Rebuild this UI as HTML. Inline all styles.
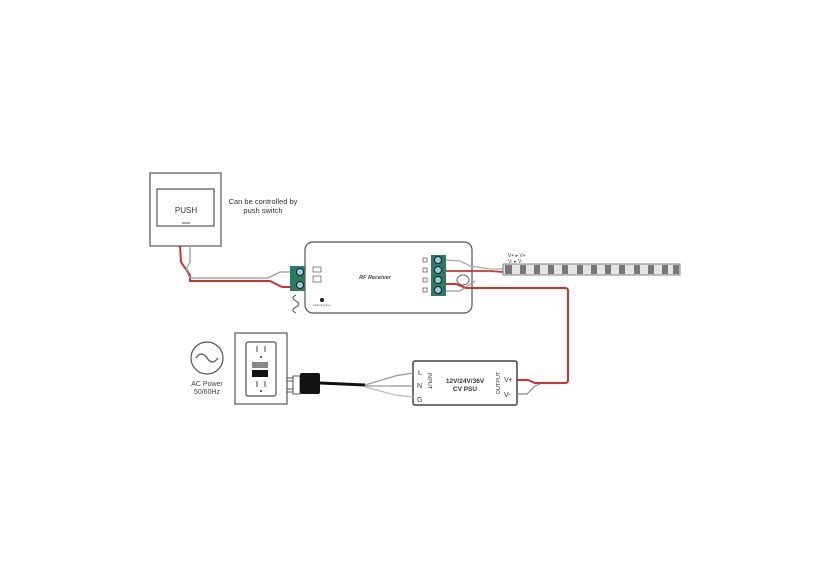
<!DOCTYPE html>
<html><head><meta charset="utf-8"><style>
html,body{margin:0;padding:0;background:#fff;width:830px;height:584px;overflow:hidden}
text{font-family:"Liberation Sans",sans-serif}
</style></head><body>
<svg width="830" height="584" viewBox="0 0 830 584" xmlns="http://www.w3.org/2000/svg">
<!-- push switch -->
<rect x="150" y="173" width="71" height="73" fill="#fff" stroke="#555" stroke-width="1.2"/>
<rect x="157" y="189" width="57" height="37" fill="#fff" stroke="#555" stroke-width="1.2"/>
<text x="186" y="213" font-size="8" text-anchor="middle" fill="#333">PUSH</text>
<rect x="182" y="222" width="8" height="2" fill="#aaa"/>
<text x="263" y="204" font-size="7.5" text-anchor="middle" fill="#333">Can be controlled by</text>
<text x="263" y="213" font-size="7.5" text-anchor="middle" fill="#333">push switch</text>
<!-- switch wires -->
<path d="M180 246 L181 262 L190 275 L190 281 L270 281 L282 287 L292 287" fill="none" stroke="#c33" stroke-width="2"/>
<path d="M190 246 L190 262 L186 270 L190 278 L268 278 L280 272 L292 272" fill="none" stroke="#999" stroke-width="1.3"/>
<!-- receiver -->
<rect x="305" y="242" width="167" height="71" rx="8" fill="#fff" stroke="#555" stroke-width="1.2"/>
<rect x="290" y="266" width="15" height="25" fill="#2f7a5e"/>
<circle cx="300" cy="272" r="3.5" fill="#9cc" stroke="#124"/>
<circle cx="300" cy="285" r="3.5" fill="#9cc" stroke="#124"/>
<rect x="313" y="267" width="8" height="5" fill="#fff" stroke="#666" stroke-width="0.8"/>
<rect x="313" y="276" width="8" height="6" fill="#fff" stroke="#666" stroke-width="0.8"/>
<path d="M296 295 q-6 3 0 6 q6 3 0 6 q-6 3 0 6" fill="none" stroke="#555"/>
<circle cx="322" cy="300" r="2" fill="#222"/>
<text x="322" y="306" font-size="3" text-anchor="middle" fill="#555">Learning Key</text>
<text x="375" y="279" font-size="5.5" font-weight="bold" font-style="italic" text-anchor="middle" fill="#444">RF Receiver</text>
<rect x="431" y="255" width="15" height="41" fill="#2f7a5e"/>
<circle cx="438" cy="260" r="3.5" fill="#9cc" stroke="#124"/>
<circle cx="438" cy="270" r="3.5" fill="#9cc" stroke="#124"/>
<circle cx="438" cy="280" r="3.5" fill="#9cc" stroke="#124"/>
<circle cx="438" cy="290" r="3.5" fill="#9cc" stroke="#124"/>
<rect x="423" y="258" width="4" height="4" fill="#fff" stroke="#555" stroke-width="0.7"/>
<rect x="423" y="268" width="4" height="4" fill="#fff" stroke="#555" stroke-width="0.7"/>
<rect x="423" y="278" width="4" height="4" fill="#fff" stroke="#555" stroke-width="0.7"/>
<rect x="423" y="288" width="4" height="4" fill="#fff" stroke="#555" stroke-width="0.7"/>
<ellipse cx="463" cy="280" rx="6" ry="5" fill="#fff" stroke="#666"/>
<!-- receiver to strip -->
<path d="M446 260 L460 261 L470 266 L490 269 L503 269" fill="none" stroke="#aaa" stroke-width="1.3"/>
<path d="M446 271 L490 271 L503 272" fill="none" stroke="#c33" stroke-width="1.8"/>
<path d="M446 291 L460 291 L475 281" fill="none" stroke="#999" stroke-width="1.3"/>
<path d="M446 284 L456 284 L466 288 L565 288 Q568 288 568 291 L568 380 Q568 383 565 383 L535 383 L528 380 L517 380" fill="none" stroke="#c33" stroke-width="2"/>
<text x="508" y="257" font-size="5" fill="#444">V+ ▸ V+</text>
<text x="508" y="263" font-size="5" fill="#444">V- ▸ V-</text>
<!-- strip -->
<rect x="503" y="264" width="177" height="11" fill="#e4e4e4" stroke="#666" stroke-width="0.8"/>
<g fill="#777">
<rect x="505" y="265" width="7" height="9"/><rect x="520" y="265" width="6" height="9"/><rect x="534" y="265" width="6" height="9"/><rect x="548" y="265" width="6" height="9"/><rect x="562" y="265" width="6" height="9"/><rect x="577" y="265" width="6" height="9"/><rect x="591" y="265" width="6" height="9"/><rect x="605" y="265" width="6" height="9"/><rect x="619" y="265" width="6" height="9"/><rect x="634" y="265" width="6" height="9"/><rect x="648" y="265" width="6" height="9"/><rect x="662" y="265" width="6" height="9"/><rect x="673" y="265" width="6" height="9"/>
</g>
<!-- PSU -->
<rect x="413" y="361" width="104" height="44" rx="2" fill="#fff" stroke="#444" stroke-width="1.5"/>
<text x="465" y="383" font-size="6.5" font-weight="bold" text-anchor="middle" fill="#333">12V/24V/36V</text>
<text x="465" y="391" font-size="6.5" font-weight="bold" text-anchor="middle" fill="#333">CV PSU</text>
<text x="418" y="375" font-size="7" fill="#333">L</text>
<text x="417" y="388" font-size="7" fill="#333">N</text>
<text x="417" y="402" font-size="7" fill="#333">G</text>
<text transform="translate(428,381) rotate(90)" font-size="5.5" text-anchor="middle" fill="#333">INPUT</text>
<text transform="translate(500,383) rotate(-90)" font-size="5.5" text-anchor="middle" fill="#333">OUTPUT</text>
<text x="504" y="382" font-size="7" fill="#333">V+</text>
<text x="504" y="397" font-size="7" fill="#333">V-</text>
<path d="M517 394 L527 394 L535 386 L540 384" fill="none" stroke="#888" stroke-width="1.2"/>
<!-- AC -->
<circle cx="207" cy="358" r="16" fill="#fff" stroke="#555" stroke-width="1.2"/>
<path d="M196 358 q5.5 -8 11 0 q5.5 8 11 0" fill="none" stroke="#555" stroke-width="1.2"/>
<text x="207" y="386" font-size="7" text-anchor="middle" fill="#444">AC Power</text>
<text x="207" y="394" font-size="7" text-anchor="middle" fill="#444">50/60Hz</text>
<!-- outlet -->
<rect x="235" y="333" width="52" height="71" fill="#fff" stroke="#555" stroke-width="1.2"/>
<rect x="246" y="342" width="30" height="54" rx="2" fill="#fff" stroke="#555" stroke-width="1.2"/>
<line x1="257" y1="346" x2="257" y2="352" stroke="#444"/><line x1="265" y1="346" x2="265" y2="352" stroke="#444"/>
<circle cx="261" cy="357" r="1" fill="#333"/>
<rect x="252" y="362" width="16" height="6" fill="#888"/>
<rect x="252" y="370" width="16" height="7" fill="#111"/>
<line x1="257" y1="381" x2="257" y2="387" stroke="#444"/><line x1="265" y1="381" x2="265" y2="387" stroke="#444"/>
<circle cx="261" cy="391" r="1" fill="#333"/>
<!-- plug -->
<rect x="287" y="378" width="12" height="3" fill="#fff" stroke="#333" stroke-width="0.8"/>
<rect x="287" y="389" width="12" height="3" fill="#fff" stroke="#333" stroke-width="0.8"/>
<rect x="293" y="376" width="7" height="18" fill="#fff" stroke="#333" stroke-width="0.8"/>
<rect x="300" y="373" width="20" height="21" rx="2" fill="#111"/>
<path d="M320 383 L365 385" stroke="#111" stroke-width="3"/>
<path d="M365 385 L395 376 L413 373" fill="none" stroke="#999" stroke-width="1.2"/>
<path d="M365 386 L413 386" fill="none" stroke="#999" stroke-width="1.2"/>
<path d="M365 387 L395 395 L413 397" fill="none" stroke="#bbb" stroke-width="1.2"/>
</svg>
</body></html>
